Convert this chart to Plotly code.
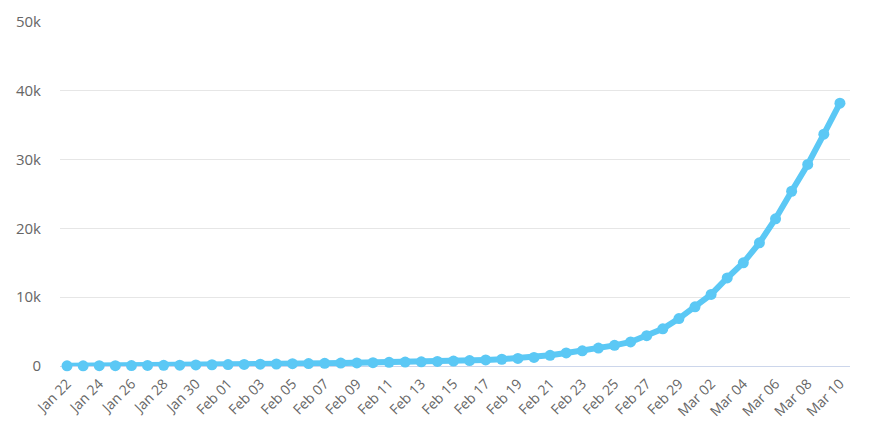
import plotly.graph_objects as go
import pandas as pd

dates = pd.date_range("2020-01-22", "2020-03-10", freq="D")
values = [
    20, 30, 40, 50, 60, 80, 100, 120, 150, 180,          # Jan 22-31
    200, 230, 260, 290, 330, 360, 390, 420, 450, 490,    # Feb 1-10
    530, 570, 610, 660, 720, 790, 880, 980, 1100, 1250,  # Feb 11-20
    1550, 1900, 2200, 2600, 3000, 3500, 4400, 5400, 6900, # Feb 21-29
    8600, 10400, 12800, 15000, 17900, 21400, 25400, 29300, 33700, 38200,  # Mar 1-10
]
y_ticks = [0, 10000, 20000, 30000, 40000, 50000]
y_labels = ["0", "10k", "20k", "30k", "40k", "50k"]
x_ticks = dates[::2]
x_labels = [d.strftime("%b %d") for d in x_ticks]

fig = go.Figure()
fig.add_trace(go.Scatter(
    x=dates, y=values, mode="lines+markers",
    line=dict(color="#5bc8f5", width=6),
    marker=dict(color="#5bc8f5", size=11),
    cliponaxis=False, hoverinfo="x+y",
))

fig.update_layout(
    width=873, height=436,
    margin=dict(l=60, r=23, t=22, b=70),
    paper_bgcolor="white", plot_bgcolor="white",
    font=dict(family="Open Sans, Noto Sans, sans-serif", size=14, color="#666666"),
    showlegend=False,
    xaxis=dict(
        range=[pd.Timestamp("2020-01-22") - pd.Timedelta(hours=10.5),
               pd.Timestamp("2020-03-10") + pd.Timedelta(hours=15)],
        tickvals=x_ticks, ticktext=x_labels, tickangle=-45,
        showgrid=False, zeroline=False, showline=False, ticks="",
        ticklabelstandoff=6,
        tickfont=dict(size=14, color="#666666"), automargin=False,
    ),
    yaxis=dict(
        range=[0, 50000], tickvals=y_ticks, ticktext=y_labels,
        showgrid=True, gridcolor="#e6e6e6", gridwidth=1,
        zeroline=True, zerolinecolor="#ccd6eb", zerolinewidth=1,
        showline=False, ticks="", ticklabelstandoff=18,
        tickfont=dict(size=15, color="#666666"), automargin=False,
    ),
)

fig.write_html("out.html", config={"displayModeBar": False},
               post_script="document.body.style.margin='0';")
